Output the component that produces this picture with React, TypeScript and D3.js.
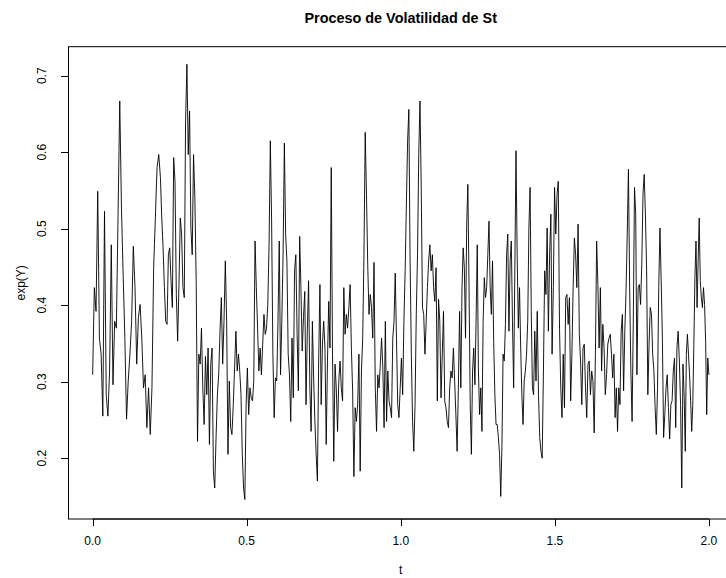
import * as d3 from "d3";
import { useEffect, useRef } from "react";

const title = "Proceso de Volatilidad de St";
const xLabel = "t";
const yLabel = "exp(Y)";
const xTicks = [0, 0.5, 1, 1.5, 2];
const yTicks = [0.2, 0.3, 0.4, 0.5, 0.6, 0.7];

const segStart = [0, 0.22, 0.465, 0.705, 0.95, 1.195, 1.435, 1.68, 1.92];
const tEnd = 2.0;

const seg0 = [
	0.309, 0.423, 0.392, 0.549, 0.357, 0.336, 0.255, 0.523, 0.283, 0.255,
	0.314, 0.479, 0.296, 0.379, 0.37, 0.519, 0.667, 0.527, 0.44, 0.357,
	0.251, 0.301, 0.336, 0.379, 0.477, 0.423, 0.323, 0.384, 0.401, 0.357,
	0.292, 0.309, 0.24, 0.292, 0.231, 0.292, 0.449, 0.514, 0.58, 0.597
];
const seg1 = [
	0.567, 0.514, 0.475, 0.423, 0.379, 0.375, 0.466, 0.475, 0.432, 0.397,
	0.593, 0.562, 0.414, 0.353, 0.427, 0.514, 0.493, 0.423, 0.41, 0.641,
	0.715, 0.597, 0.654, 0.501, 0.466, 0.597, 0.54, 0.432, 0.222, 0.336,
	0.323, 0.37, 0.292, 0.244, 0.333, 0.283, 0.344, 0.218, 0.323, 0.344,
	0.183, 0.161, 0.227, 0.283, 0.309, 0.366, 0.41, 0.323, 0.379, 0.458,
	0.379, 0.205, 0.301, 0.24, 0.231, 0.27, 0.318
];
const seg2 = [
	0.366, 0.314, 0.336, 0.314, 0.283, 0.205, 0.161, 0.146, 0.27, 0.318,
	0.257, 0.292, 0.279, 0.275, 0.301, 0.484, 0.423, 0.37, 0.314, 0.344,
	0.309, 0.349, 0.388, 0.362, 0.37, 0.401, 0.479, 0.615, 0.51, 0.336,
	0.253, 0.305, 0.301, 0.379, 0.484, 0.309, 0.379, 0.466, 0.612, 0.493,
	0.458, 0.336, 0.309, 0.248, 0.357, 0.279, 0.445, 0.466, 0.362, 0.288,
	0.49, 0.423, 0.34, 0.384, 0.418, 0.27, 0.366, 0.432
];
const seg3 = [
	0.292, 0.235, 0.379, 0.305, 0.248, 0.205, 0.17, 0.327, 0.427, 0.27,
	0.349, 0.379, 0.344, 0.218, 0.327, 0.405, 0.344, 0.58, 0.336, 0.196,
	0.323, 0.292, 0.235, 0.301, 0.327, 0.292, 0.275, 0.423, 0.362, 0.388,
	0.37, 0.397, 0.427, 0.344, 0.288, 0.176, 0.266, 0.248, 0.27, 0.336,
	0.183, 0.314, 0.357, 0.466, 0.626, 0.545, 0.453, 0.388, 0.414, 0.397,
	0.357, 0.456, 0.292, 0.235, 0.309, 0.292, 0.323, 0.357, 0.318, 0.24
];
const seg4 = [
	0.379, 0.248, 0.314, 0.275, 0.266, 0.253, 0.357, 0.379, 0.442, 0.357,
	0.27, 0.253, 0.292, 0.331, 0.283, 0.379, 0.445, 0.532, 0.615, 0.656,
	0.458, 0.336, 0.248, 0.209, 0.27, 0.388, 0.466, 0.597, 0.667, 0.554,
	0.397, 0.388, 0.336, 0.379, 0.423, 0.458, 0.479, 0.445, 0.466, 0.423,
	0.405, 0.449, 0.275, 0.408, 0.379, 0.279, 0.336, 0.392, 0.275, 0.266,
	0.248, 0.24, 0.292, 0.314, 0.305, 0.344, 0.301, 0.257, 0.209, 0.292,
	0.392
];
const seg5 = [
	0.292, 0.423, 0.475, 0.449, 0.357, 0.506, 0.558, 0.423, 0.27, 0.205,
	0.314, 0.344, 0.296, 0.379, 0.479, 0.314, 0.257, 0.292, 0.235, 0.379,
	0.436, 0.41, 0.423, 0.466, 0.51, 0.423, 0.388, 0.458, 0.353, 0.283,
	0.244, 0.244, 0.227, 0.205, 0.15, 0.214, 0.336, 0.327, 0.375, 0.466,
	0.493, 0.366, 0.458, 0.484, 0.379, 0.292, 0.445, 0.602, 0.466, 0.37,
	0.423, 0.344, 0.283, 0.244, 0.301, 0.314, 0.336, 0.379, 0.501, 0.554,
	0.392, 0.292, 0.283
];
const seg6 = [
	0.366, 0.301, 0.392, 0.283, 0.227, 0.209, 0.2, 0.314, 0.445, 0.414,
	0.501, 0.366, 0.466, 0.519, 0.336, 0.423, 0.554, 0.493, 0.545, 0.562,
	0.37, 0.292, 0.253, 0.336, 0.266, 0.41, 0.414, 0.375, 0.41, 0.275,
	0.336, 0.423, 0.488, 0.466, 0.423, 0.506, 0.362, 0.327, 0.27, 0.344,
	0.349, 0.292, 0.253, 0.323, 0.327, 0.283, 0.314, 0.301, 0.233, 0.336,
	0.484, 0.427, 0.344, 0.423, 0.314, 0.375, 0.344, 0.283, 0.309, 0.349,
	0.357
];
const seg7 = [
	0.362, 0.336, 0.305, 0.336, 0.253, 0.292, 0.235, 0.292, 0.27, 0.366,
	0.388, 0.288, 0.366, 0.418, 0.493, 0.578, 0.423, 0.314, 0.248, 0.379,
	0.554, 0.519, 0.309, 0.423, 0.427, 0.401, 0.453, 0.545, 0.571, 0.519,
	0.445, 0.283, 0.349, 0.397, 0.388, 0.336, 0.314, 0.266, 0.231, 0.292,
	0.423, 0.501, 0.432, 0.357, 0.227, 0.257, 0.292, 0.309, 0.266, 0.225,
	0.27, 0.275, 0.314, 0.331, 0.24, 0.344, 0.366, 0.327, 0.27, 0.161,
	0.323
];
const seg8 = [
	0.279, 0.209, 0.336, 0.362, 0.336, 0.309, 0.275, 0.235, 0.27, 0.349,
	0.436, 0.484, 0.397, 0.458, 0.514, 0.432, 0.41, 0.397, 0.423, 0.401,
	0.353, 0.257, 0.331, 0.309
];

const segments = [seg0, seg1, seg2, seg3, seg4, seg5, seg6, seg7, seg8];

const font = "'Liberation Sans', Arial, sans-serif";

const drawChart = (node: SVGSVGElement) => {
	const width = 726;
	const height = 578;
	const left = 68;
	const right = 733.5;
	const top = 46.7;
	const bottom = 519;

	const points = segments.flatMap((vals, k) => {
		const t0 = segStart[k];
		const t1 = k + 1 < segStart.length ? segStart[k + 1] : tEnd;
		const last = k === segments.length - 1;
		const step = (t1 - t0) / (last ? vals.length - 1 : vals.length);
		return vals.map((v, i) => ({ t: t0 + i * step, v }));
	});

	const x = d3.scaleLinear().domain([-0.08, 2.08]).range([left, right]);
	const y = d3.scaleLinear().domain([0.1205, 0.738]).range([bottom, top]);

	const svg = d3.select(node);
	svg.selectAll("*").remove();
	svg.attr("width", width).attr("height", height);

	svg
		.append("rect")
		.attr("width", width)
		.attr("height", height)
		.attr("fill", "white");

	const line = d3
		.line<{ t: number; v: number }>()
		.x(d => x(d.t))
		.y(d => y(d.v));

	svg
		.append("path")
		.datum(points)
		.attr("fill", "none")
		.attr("stroke", "black")
		.attr("stroke-width", 0.9)
		.attr("d", line);

	// box
	svg
		.append("rect")
		.attr("x", left + 0.5)
		.attr("y", top)
		.attr("width", right - left)
		.attr("height", bottom - top)
		.attr("fill", "none")
		.attr("stroke", "black");

	// x axis
	const xAxis = svg.append("g");
	xAxis
		.append("line")
		.attr("x1", x(xTicks[0]))
		.attr("x2", x(xTicks[xTicks.length - 1]))
		.attr("y1", bottom)
		.attr("y2", bottom)
		.attr("stroke", "black");
	xAxis
		.selectAll("line.tick")
		.data(xTicks)
		.enter()
		.append("line")
		.attr("class", "tick")
		.attr("x1", d => Math.round(x(d)) + 0.5)
		.attr("x2", d => Math.round(x(d)) + 0.5)
		.attr("y1", bottom)
		.attr("y2", bottom + 7)
		.attr("stroke", "black");
	xAxis
		.selectAll("text")
		.data(xTicks)
		.enter()
		.append("text")
		.attr("x", d => x(d))
		.attr("y", bottom + 26)
		.attr("text-anchor", "middle")
		.style("font-family", font)
		.style("font-size", "12px")
		.text(d => d3.format(".1f")(d));

	// y axis
	const yAxis = svg.append("g");
	yAxis
		.selectAll("line.tick")
		.data(yTicks)
		.enter()
		.append("line")
		.attr("class", "tick")
		.attr("x1", left)
		.attr("x2", left - 7)
		.attr("y1", d => Math.round(y(d)) + 0.5)
		.attr("y2", d => Math.round(y(d)) + 0.5)
		.attr("stroke", "black");
	yAxis
		.selectAll("text")
		.data(yTicks)
		.enter()
		.append("text")
		.attr("transform", d => `translate(${left - 22}, ${y(d)}) rotate(-90)`)
		.attr("text-anchor", "middle")
		.style("font-family", font)
		.style("font-size", "12px")
		.text(d => d3.format(".1f")(d));

	// labels
	svg
		.append("text")
		.attr("x", (left + right) / 2)
		.attr("y", 23)
		.attr("text-anchor", "middle")
		.style("font-family", font)
		.style("font-size", "14.4px")
		.style("font-weight", "bold")
		.text(title);

	svg
		.append("text")
		.attr("x", (left + right) / 2)
		.attr("y", 574)
		.attr("text-anchor", "middle")
		.style("font-family", font)
		.style("font-size", "12px")
		.text(xLabel);

	svg
		.append("text")
		.attr("transform", `translate(${left - 43}, ${(top + bottom) / 2}) rotate(-90)`)
		.attr("text-anchor", "middle")
		.style("font-family", font)
		.style("font-size", "12px")
		.text(yLabel);
};

export default function App() {
	const ref = useRef<SVGSVGElement>(null);

	useEffect(() => {
		if (ref.current) drawChart(ref.current);
	}, []);

	return (
		<svg
			ref={ref}
			style={{ position: "absolute", left: 0, top: 0, display: "block" }}
		/>
	);
}
